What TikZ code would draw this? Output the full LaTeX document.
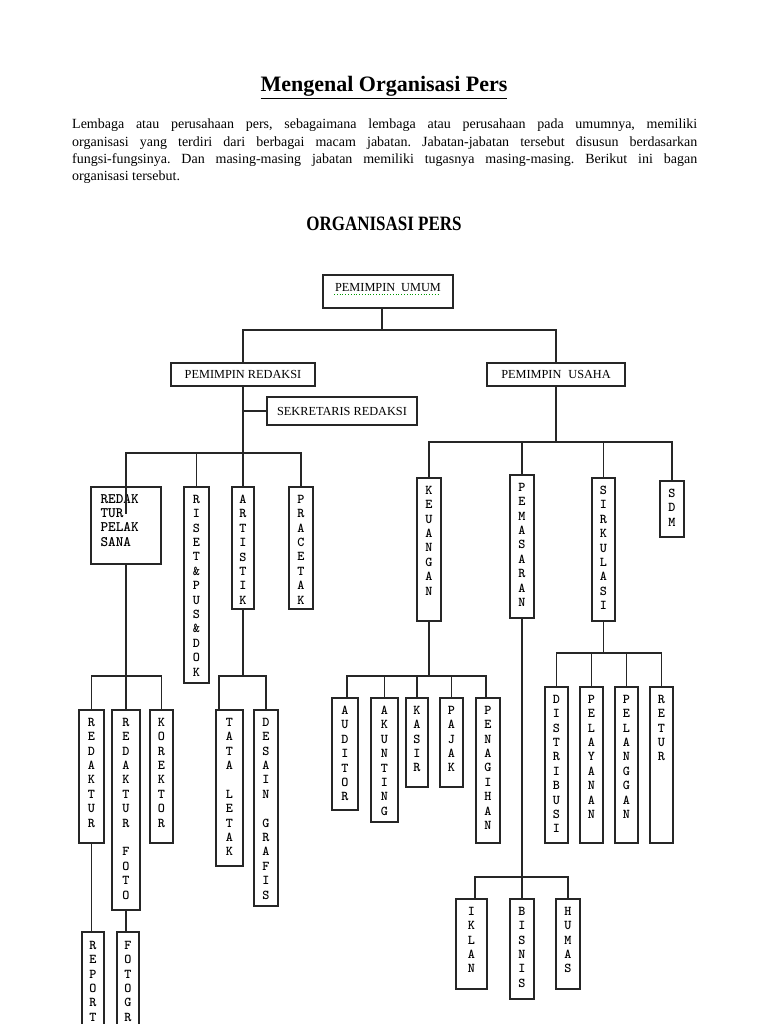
\documentclass[tikz,border=0pt]{standalone}
\usepackage{fontspec}
\usepackage{graphicx}
\setmainfont{Liberation Serif}
\usetikzlibrary{fit,shadows}
\begin{document}
\begin{tikzpicture}[x=1pt,y=-1pt,
  box/.style={draw=black!85, line width=1.2pt, fill=white, inner sep=0pt,
    drop shadow={shadow xshift=1.3pt, shadow yshift=-1.3pt, fill=black!30, opacity=1}},
  hlab/.style={inner sep=0pt, font=\fontsize{12.3}{14}\selectfont},
  vlab/.style={anchor=north, inner sep=0pt, yshift=-8.5pt, align=center,
    font=\ttfamily\bfseries\fontsize{13.5}{14.4}\selectfont},
  rplab/.style={anchor=north west, inner sep=0pt, xshift=10pt, yshift=-7.5pt, align=left,
    font=\ttfamily\bfseries\fontsize{14.5}{14.4}\selectfont},
  conn/.style={draw=black!85, line width=1.2pt}]
\useasboundingbox (0,0) rectangle (768,1024);
\fill[white] (0,0) rectangle (768,1024);
\clip (0,0) rectangle (768,1024);

% ---------- texts ----------
\node[anchor=base, inner sep=0pt] (title) at (384,92)
  {\fontsize{22}{26}\selectfont\bfseries\underline{Mengenal Organisasi Pers}};
\node[anchor=north west, inner sep=0pt, text width=625pt, align=justify,
  font=\fontsize{14}{17.3}\selectfont] (para) at (72,119)
  {\frenchspacing\tolerance=10000 Lembaga atau perusahaan pers, sebagaimana lembaga atau perusahaan pada umumnya, memiliki\linebreak
   organisasi yang terdiri dari berbagai macam jabatan. Jabatan-jabatan tersebut disusun berdasarkan\linebreak
   fungsi-fungsinya. Dan masing-masing jabatan memiliki tugasnya masing-masing. Berikut ini bagan\linebreak
   organisasi tersebut.};
\node[inner sep=0pt] (head) at (384,224)
  {\scalebox{1}[1.2]{\fontsize{17}{20}\selectfont\bfseries ORGANISASI PERS}};

% ---------- top level ----------
\node[box, fit={(323,275) (453,308)}, label={[hlab, yshift=4pt]center:PEMIMPIN\hspace{6pt}UMUM}] (pu) {};
\draw[green!60!black, dotted, line width=0.8pt] (334,294) -- (440,294);
\node[box, fit={(171,363) (315,386)}, label={[hlab]center:PEMIMPIN REDAKSI}] (pr) {};
\node[box, fit={(487,363) (625,386)}, label={[hlab]center:PEMIMPIN\hspace{7pt}USAHA}] (pus) {};
\node[box, fit={(267,397) (417,425)}, label={[hlab]center:SEKRETARIS REDAKSI}] (sr) {};

% ---------- redaksi ----------
\node[box, fit={(91,487) (161,564)}, label={[rplab]north west:{REDAK\\TUR\\PELAK\\SANA}}] (rp) {};
\node[box, fit={(184,487) (209,683)}, label={[vlab]north:{R\\I\\S\\E\\T\\\&\\P\\U\\S\\\&\\D\\O\\K}}] (rpd) {};
\node[box, fit={(232,487) (254,609)}, label={[vlab]north:{A\\R\\T\\I\\S\\T\\I\\K}}] (art) {};
\node[box, fit={(289,487) (313,609)}, label={[vlab]north:{P\\R\\A\\C\\E\\T\\A\\K}}] (pc) {};

\node[box, fit={(79,710) (104,843)}, label={[vlab]north:{R\\E\\D\\A\\K\\T\\U\\R}}] (red) {};
\node[box, fit={(112,710) (140,910)}, label={[vlab]north:{R\\E\\D\\A\\K\\T\\U\\R\\[14.4pt]F\\O\\T\\O}}] (rf) {};
\node[box, fit={(150,710) (173,843)}, label={[vlab]north:{K\\O\\R\\E\\K\\T\\O\\R}}] (kor) {};
\node[box, fit={(216,710) (243,866)}, label={[vlab]north:{T\\A\\T\\A\\[14.4pt]L\\E\\T\\A\\K}}] (tl) {};
\node[box, fit={(254,710) (278,906)}, label={[vlab]north:{D\\E\\S\\A\\I\\N\\[14.4pt]G\\R\\A\\F\\I\\S}}] (dg) {};
\node[box, fit={(82,932) (104,1060)}, label={[vlab,yshift=-1pt]north:{R\\E\\P\\O\\R\\T\\E\\R}}] (rep) {};
\node[box, fit={(117,932) (139,1080)}, label={[vlab,yshift=-1pt]north:{F\\O\\T\\O\\G\\R\\A\\F\\E\\R}}] (fg) {};

% ---------- usaha ----------
\node[box, fit={(417,478) (441,621)}, label={[vlab]north:{K\\E\\U\\A\\N\\G\\A\\N}}] (keu) {};
\node[box, fit={(510,475) (534,618)}, label={[vlab]north:{P\\E\\M\\A\\S\\A\\R\\A\\N}}] (pem) {};
\node[box, fit={(592,478) (615,621)}, label={[vlab]north:{S\\I\\R\\K\\U\\L\\A\\S\\I}}] (sir) {};
\node[box, fit={(660,481) (684,537)}, label={[vlab]north:{S\\D\\M}}] (sdm) {};

\node[box, fit={(332,698) (358,810)}, label={[vlab]north:{A\\U\\D\\I\\T\\O\\R}}] (aud) {};
\node[box, fit={(371,698) (398,822)}, label={[vlab]north:{A\\K\\U\\N\\T\\I\\N\\G}}] (aku) {};
\node[box, fit={(406,698) (428,787)}, label={[vlab]north:{K\\A\\S\\I\\R}}] (kas) {};
\node[box, fit={(440,698) (463,787)}, label={[vlab]north:{P\\A\\J\\A\\K}}] (paj) {};
\node[box, fit={(476,698) (500,843)}, label={[vlab]north:{P\\E\\N\\A\\G\\I\\H\\A\\N}}] (pen) {};

\node[box, fit={(545,687) (568,843)}, label={[vlab]north:{D\\I\\S\\T\\R\\I\\B\\U\\S\\I}}] (dis) {};
\node[box, fit={(580,687) (603,843)}, label={[vlab]north:{P\\E\\L\\A\\Y\\A\\N\\A\\N}}] (pel) {};
\node[box, fit={(615,687) (638,843)}, label={[vlab]north:{P\\E\\L\\A\\N\\G\\G\\A\\N}}] (plg) {};
\node[box, fit={(650,687) (673,843)}, label={[vlab]north:{R\\E\\T\\U\\R}}] (ret) {};

\node[box, fit={(456,899) (487,989)}, label={[vlab]north:{I\\K\\L\\A\\N}}] (ikl) {};
\node[box, fit={(510,899) (534,999)}, label={[vlab]north:{B\\I\\S\\N\\I\\S}}] (bis) {};
\node[box, fit={(556,899) (580,989)}, label={[vlab]north:{H\\U\\M\\A\\S}}] (hum) {};

% ---------- connectors ----------
\coordinate (j0) at (382,330);
\draw[conn] (pu.south -| j0) -- (j0) -| (pr.north);
\draw[conn] (j0) -| (pus.north);

\coordinate (j1) at (243,453);
\draw[conn] (pr.south) -- (j1);
\draw[conn] (sr.west) -- (sr.west -| j1);
\draw[conn] (j1) -| (rp.north);
\draw[conn] (j1) -| (rpd.north);
\draw[conn] (j1) -- (art.north);
\draw[conn] (j1) -| (pc.north);
\draw[conn, line width=1.6pt] (rp.north) -- ([yshift=-28pt]rp.north);

\coordinate (j2) at (556,442);
\draw[conn] (pus.south) -- (j2);
\draw[conn] (j2) -| (keu.north);
\draw[conn] (j2) -| (pem.north);
\draw[conn] (j2) -| (sir.north);
\draw[conn] (j2) -| (sdm.north);

\coordinate (j3) at (126,676);
\draw[conn] (rp.south) -- (j3);
\draw[conn] (j3) -| (red.north);
\draw[conn] (j3) -- (rf.north);
\draw[conn] (j3) -| (kor.north);
\draw[conn] (red.south) -- (rep.north -| red.south);
\draw[conn] (rf.south) -- (fg.north -| rf.south);

\coordinate (j4) at (243,676);
\draw[conn] (art.south) -- (j4);
\draw[conn] (j4) -| ([xshift=-10.5pt]tl.north);
\draw[conn] (j4) -| (dg.north);

\coordinate (j5) at (429,676);
\draw[conn] (keu.south) -- (j5);
\draw[conn] (j5) -| ([xshift=2pt]aud.north);
\draw[conn] (j5) -| (aku.north);
\draw[conn] (j5) -| (kas.north);
\draw[conn] (j5) -| (paj.north);
\draw[conn] (j5) -| ([xshift=-2pt]pen.north);

\coordinate (j6) at (603.5,653);
\draw[conn] (sir.south) -- (j6);
\draw[conn] (j6) -| (dis.north);
\draw[conn] (j6) -| (pel.north);
\draw[conn] (j6) -| (plg.north);
\draw[conn] (j6) -| (ret.north);

\coordinate (j7) at (522,877);
\draw[conn] (pem.south) -- (j7);
\draw[conn] (j7) -| ([xshift=3.5pt]ikl.north);
\draw[conn] (j7) -- (bis.north);
\draw[conn] (j7) -| (hum.north);
\end{tikzpicture}
\end{document}
